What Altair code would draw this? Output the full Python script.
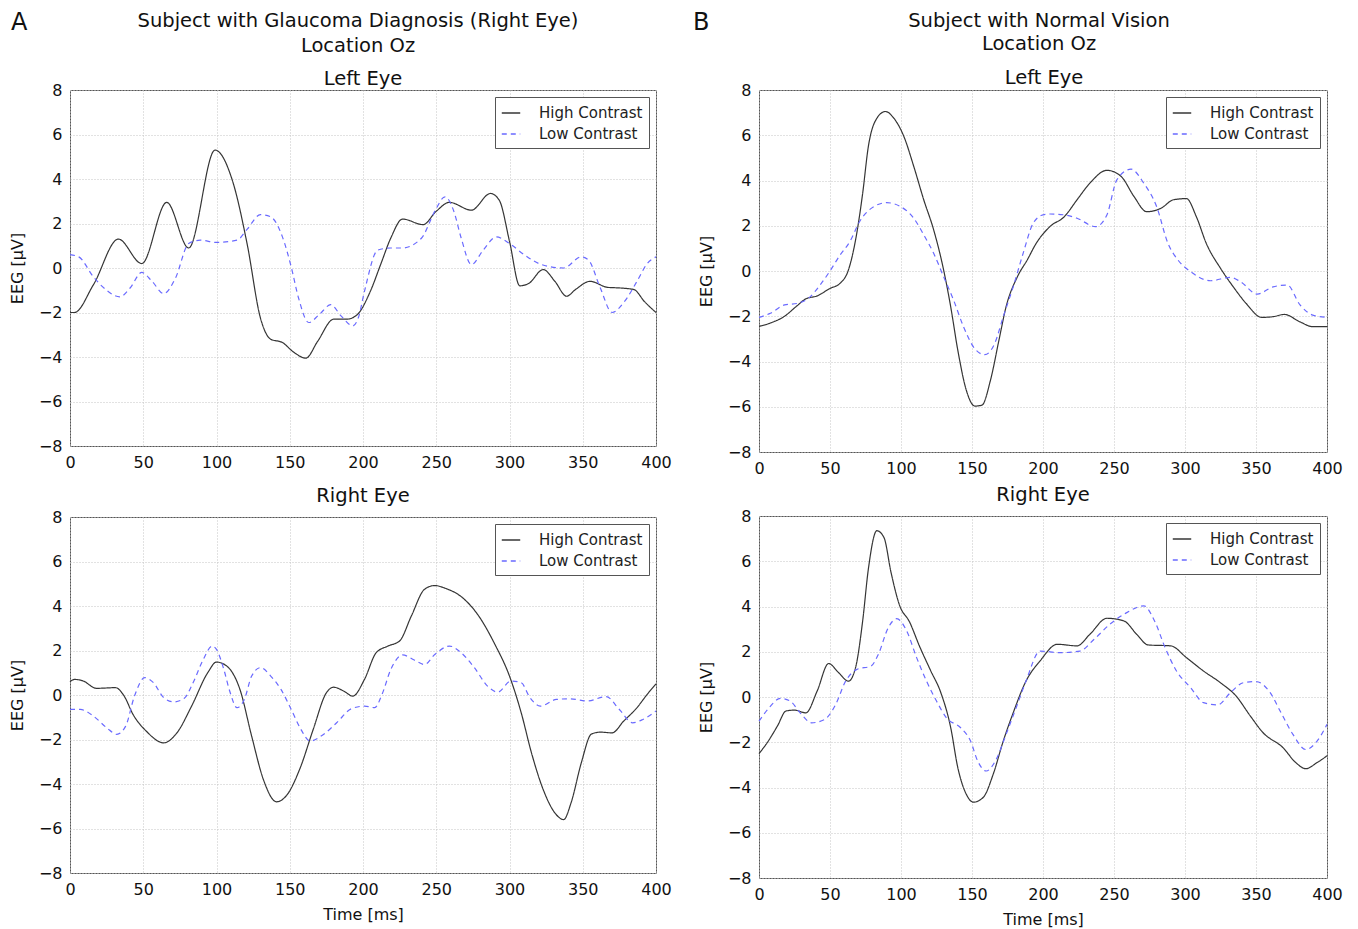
import altair as alt
import pandas as pd

# ---------- Panel A (glaucoma), Left Eye ----------
A_L_HIGH_T = [0, 3, 16, 33, 49, 66, 81, 99, 111, 121, 130, 137, 145, 153, 161, 169, 180, 189, 196,
              205, 212, 219, 227, 241, 250, 259, 274, 287, 293, 300, 307, 313, 323, 331, 339, 345,
              355, 367, 376, 385, 392, 400]
A_L_HIGH_V = [-2.0, -2.0, -0.75, 1.3, 0.2, 2.95, 0.9, 5.3, 3.9, 1.05, -2.25, -3.2, -3.35, -3.8, -4.05,
              -3.3, -2.3, -2.3, -2.1, -1.05, 0.15, 1.35, 2.2, 1.95, 2.55, 2.95, 2.6, 3.35, 3.05, 1.2,
              -0.8, -0.7, -0.07, -0.6, -1.27, -0.97, -0.6, -0.87, -0.9, -0.97, -1.5, -2.0]
A_L_LOW_T = [0, 6, 16, 25, 34, 41, 49, 56, 64, 72, 81, 89, 100, 114, 121, 130, 137, 145, 151, 156, 163,
             170, 178, 185, 193, 197, 201, 210, 219, 227, 240, 249, 256, 262, 267, 274, 282, 291, 300,
             310, 322, 337, 349, 354, 362, 370, 378, 387, 394, 400]
A_L_LOW_V = [0.6, 0.5, -0.4, -1.0, -1.3, -0.9, -0.2, -0.6, -1.15, -0.45, 1.1, 1.25, 1.15, 1.25, 1.75, 2.4,
             2.3, 1.4, 0.05, -1.35, -2.45, -2.1, -1.65, -2.15, -2.6, -2.2, -1.05, 0.8, 0.9, 0.9, 1.35,
             2.55, 3.2, 2.55, 1.35, 0.15, 0.8, 1.4, 1.1, 0.6, 0.15, 0.0, 0.5, 0.35, -0.9, -2.0, -1.55,
             -0.6, 0.2, 0.5]

# ---------- Panel A (glaucoma), Right Eye ----------
A_R_HIGH_T = [0, 3, 9, 18, 31, 37, 43, 52, 64, 73, 83, 94, 100, 107, 116, 124, 132, 141, 148, 157, 166,
              175, 180, 187, 193, 201, 209, 217, 225, 233, 242, 249, 256, 268, 279, 290, 300, 308, 315,
              323, 331, 337, 342, 349, 356, 362, 370, 378, 387, 394, 400]
A_R_HIGH_V = [0.6, 0.7, 0.63, 0.3, 0.33, -0.05, -0.87, -1.62, -2.15, -1.7, -0.5, 1.0, 1.48, 1.3, 0.25,
              -1.85, -3.8, -4.8, -4.5, -3.3, -1.55, 0.1, 0.35, 0.17, -0.05, 0.7, 1.9, 2.2, 2.43, 3.55,
              4.75, 4.92, 4.8, 4.37, 3.55, 2.28, 0.85, -0.8, -2.6, -4.25, -5.3, -5.6, -4.85, -3.05,
              -1.75, -1.67, -1.7, -1.17, -0.57, 0.03, 0.5]
A_R_LOW_T = [0, 7, 16, 25, 32, 38, 44, 51, 57, 64, 71, 78, 84, 91, 97, 100, 105, 109, 114, 119, 124,
             130, 137, 144, 151, 157, 164, 173, 182, 192, 201, 208, 213, 219, 227, 235, 242, 249, 259,
             267, 276, 285, 292, 301, 308, 314, 321, 332, 341, 353, 366, 375, 384, 391, 400]
A_R_LOW_V = [-0.65, -0.65, -0.95, -1.47, -1.77, -1.4, -0.05, 0.78, 0.55, -0.12, -0.31, -0.15, 0.55, 1.6,
             2.2, 2.05, 1.15, 0.18, -0.57, -0.2, 0.85, 1.23, 0.85, 0.25, -0.65, -1.47, -2.07, -1.77,
             -1.25, -0.62, -0.5, -0.57, 0.03, 1.15, 1.8, 1.57, 1.37, 1.82, 2.2, 1.9, 1.23, 0.4, 0.13,
             0.63, 0.55, -0.12, -0.5, -0.2, -0.17, -0.27, -0.07, -0.65, -1.25, -1.1, -0.72]

# ---------- Panel B (normal vision), Left Eye ----------
B_L_HIGH_T = [0, 8, 18, 26, 33, 41, 50, 57, 63, 68, 73, 77, 83, 89, 95, 102, 109, 116, 123, 130, 135,
              140, 146, 152, 157, 163, 169, 174, 182, 189, 195, 205, 215, 224, 233, 245, 255, 264, 273,
              283, 292, 301, 308, 315, 325, 334, 343, 354, 362, 370, 381, 390, 400]
B_L_HIGH_V = [-2.45, -2.3, -2.0, -1.58, -1.23, -1.1, -0.77, -0.55, 0.05, 1.37, 3.43, 5.5, 6.75, 7.05,
              6.75, 5.95, 4.62, 3.15, 1.82, 0.05, -1.58, -3.5, -5.27, -5.97, -5.93, -4.83, -3.05, -1.58,
              -0.25, 0.5, 1.2, 1.97, 2.4, 3.15, 3.88, 4.45, 4.18, 3.3, 2.62, 2.77, 3.15, 3.2, 2.4, 1.22,
              0.12, -0.7, -1.43, -2.05, -2.02, -1.92, -2.25, -2.46, -2.46]
B_L_LOW_T = [0, 8, 18, 27, 35, 43, 50, 57, 64, 71, 81, 90, 99, 109, 116, 123, 130, 137, 144, 151, 159,
             166, 172, 179, 186, 193, 200, 205, 215, 224, 237, 245, 252, 262, 271, 280, 288, 295, 304,
             318, 332, 339, 351, 362, 372, 381, 390, 400]
B_L_LOW_V = [-2.05, -1.87, -1.5, -1.43, -1.2, -0.62, 0.0, 0.7, 1.3, 2.2, 2.85, 3.02, 2.87, 2.33, 1.6,
             0.78, -0.25, -1.28, -2.46, -3.35, -3.7, -3.2, -2.02, -0.7, 0.78, 2.1, 2.48, 2.52, 2.48,
             2.33, 1.96, 2.48, 4.03, 4.5, 3.88, 2.85, 1.22, 0.49, -0.03, -0.43, -0.28, -0.47, -1.02,
             -0.7, -0.62, -1.5, -1.95, -2.05]

# ---------- Panel B (normal vision), Right Eye ----------
B_R_HIGH_T = [0, 6, 13, 19, 25, 33, 41, 49, 56, 63, 68, 73, 77, 83, 88, 93, 99, 106, 113, 121, 128,
              135, 140, 146, 151, 158, 165, 172, 179, 188, 198, 210, 224, 233, 245, 257, 266, 274, 290,
              301, 313, 325, 336, 346, 355, 369, 378, 385, 393, 400]
B_R_HIGH_V = [-2.5, -2.0, -1.28, -0.62, -0.58, -0.7, 0.27, 1.48, 1.08, 0.7, 1.3, 3.36, 5.65, 7.35, 7.05,
              5.5, 4.05, 3.32, 2.25, 1.15, 0.2, -1.35, -3.12, -4.3, -4.65, -4.43, -3.4, -1.95, -0.7, 0.7,
              1.6, 2.33, 2.26, 2.77, 3.48, 3.36, 2.77, 2.3, 2.26, 1.74, 1.15, 0.63, 0.04, -0.84, -1.58,
              -2.24, -2.9, -3.17, -2.9, -2.6]
B_R_LOW_T = [0, 7, 15, 22, 29, 37, 46, 54, 61, 69, 79, 84, 91, 97, 104, 111, 118, 125, 132, 142, 149,
             154, 160, 167, 174, 182, 188, 198, 212, 226, 236, 247, 259, 271, 279, 286, 294, 304, 313,
             323, 332, 341, 350, 360, 367, 376, 385, 393, 400]
B_R_LOW_V = [-1.07, -0.48, -0.06, -0.18, -0.7, -1.14, -1.0, -0.33, 0.7, 1.22, 1.37, 1.88, 3.06, 3.46,
             2.92, 1.74, 0.7, -0.18, -0.92, -1.36, -1.95, -2.83, -3.27, -2.76, -1.65, -0.32, 0.7, 2.03,
             1.96, 2.03, 2.55, 3.21, 3.73, 4.03, 3.3, 2.18, 1.15, 0.41, -0.25, -0.35, 0.19, 0.63, 0.68,
             0.19, -0.62, -1.65, -2.32, -1.95, -1.21]

SERIES = ["High Contrast", "Low Contrast"]
Y_TICKS = [-8, -6, -4, -2, 0, 2, 4, 6, 8]
X_TICKS = [0, 50, 100, 150, 200, 250, 300, 350, 400]

# header texts
A_HEADER = ["Subject with Glaucoma Diagnosis (Right Eye)", "Location Oz", "Left Eye"]
B_HEADER = ["Subject with Normal Vision", "Location Oz", "Left Eye"]

FONT = "DejaVu Sans"
TXT = "#111111"


def make_df(ht, hv, lt, lv):
    return pd.concat([
        pd.DataFrame({"t": ht, "v": hv, "series": SERIES[0]}),
        pd.DataFrame({"t": lt, "v": lv, "series": SERIES[1]}),
    ])


def line_chart(df, xtitle, width, height):
    legend = alt.Legend(
        title=None, orient="top-right", offset=7, fillColor="white",
        strokeColor="#555", padding=6, symbolType="stroke", symbolSize=340,
        symbolStrokeWidth=1.3, labelFontSize=15, labelFont=FONT, labelColor="#222",
        rowPadding=3, labelOffset=18,
    )
    return alt.Chart(df).mark_line(interpolate="monotone", strokeWidth=1.2).encode(
        x=alt.X("t:Q", scale=alt.Scale(domain=[0, 400], nice=False),
                axis=alt.Axis(values=X_TICKS, title=xtitle, labelFlush=False)),
        y=alt.Y("v:Q", scale=alt.Scale(domain=[-8, 8], nice=False),
                axis=alt.Axis(values=Y_TICKS, title="EEG [μV]", labelFlush=False)),
        color=alt.Color("series:N", scale=alt.Scale(domain=SERIES, range=["#353535", "#6a6aff"]),
                        legend=legend),
        strokeDash=alt.StrokeDash("series:N",
                                  scale=alt.Scale(domain=SERIES, range=[[1, 0], [5, 4]]),
                                  legend=legend),
    ).properties(width=width, height=height)


def header(lines, letter, cx, letter_x, y_letter, y_top, y_mid, y_sub):
    layers = []
    specs = [
        (lines[0], cx, y_top, 19.5, "center"),
        (lines[1], cx, y_mid, 19.5, "center"),
        (lines[2], cx + 5, y_sub, 19.5, "center"),
        (letter, letter_x, y_letter, 24, "left"),
    ]
    for text, x, y, size, align in specs:
        layers.append(
            alt.Chart(pd.DataFrame({"lab": [text]})).mark_text(
                fontSize=size, font=FONT, color=TXT, align=align, baseline="middle"
            ).encode(text="lab:N", x=alt.value(x), y=alt.value(y))
        )
    return layers


a_top = alt.layer(
    line_chart(make_df(A_L_HIGH_T, A_L_HIGH_V, A_L_LOW_T, A_L_LOW_V), None, 586, 356),
    *header(A_HEADER, "A", 288, -59, -67, -69, -44, -11),
)
a_bot = line_chart(make_df(A_R_HIGH_T, A_R_HIGH_V, A_R_LOW_T, A_R_LOW_V), "Time [ms]", 586, 356
                   ).properties(title=alt.TitleParams("Right Eye", fontSize=19.5, fontWeight="normal",
                                                      font=FONT, color=TXT, offset=3))
b_top = alt.layer(
    line_chart(make_df(B_L_HIGH_T, B_L_HIGH_V, B_L_LOW_T, B_L_LOW_V), None, 568, 362),
    *header(B_HEADER, "B", 280, -66, -67, -69, -46, -12),
)
b_bot = line_chart(make_df(B_R_HIGH_T, B_R_HIGH_V, B_R_LOW_T, B_R_LOW_V), "Time [ms]", 568, 362
                   ).properties(title=alt.TitleParams("Right Eye", fontSize=19.5, fontWeight="normal",
                                                      font=FONT, color=TXT, offset=3))

indep = dict(color="independent", strokeDash="independent")

col_a = alt.vconcat(a_top, a_bot, spacing=14).resolve_scale(**indep).resolve_legend(**indep)
col_b = alt.vconcat(b_top, b_bot, spacing=7).resolve_scale(**indep).resolve_legend(**indep)

chart = alt.hconcat(col_a, col_b, spacing=20).resolve_scale(**indep).resolve_legend(**indep).properties(
    padding={"left": 0, "top": 2, "right": 0, "bottom": 0}
).configure_view(
    stroke="#555", strokeWidth=1
).configure_axis(
    domain=False, ticks=False, grid=True, gridColor="#c4c4c4", gridDash=[1, 2], gridWidth=1,
    labelFont=FONT, labelFontSize=16, labelColor=TXT,
    titleFont=FONT, titleFontSize=16, titleFontWeight="normal", titleColor=TXT,
).configure_axisY(titlePadding=13, labelPadding=8).configure_axisX(titlePadding=9, labelPadding=8)

chart.save("out.html", embed_options={"renderer": "svg", "actions": False})
